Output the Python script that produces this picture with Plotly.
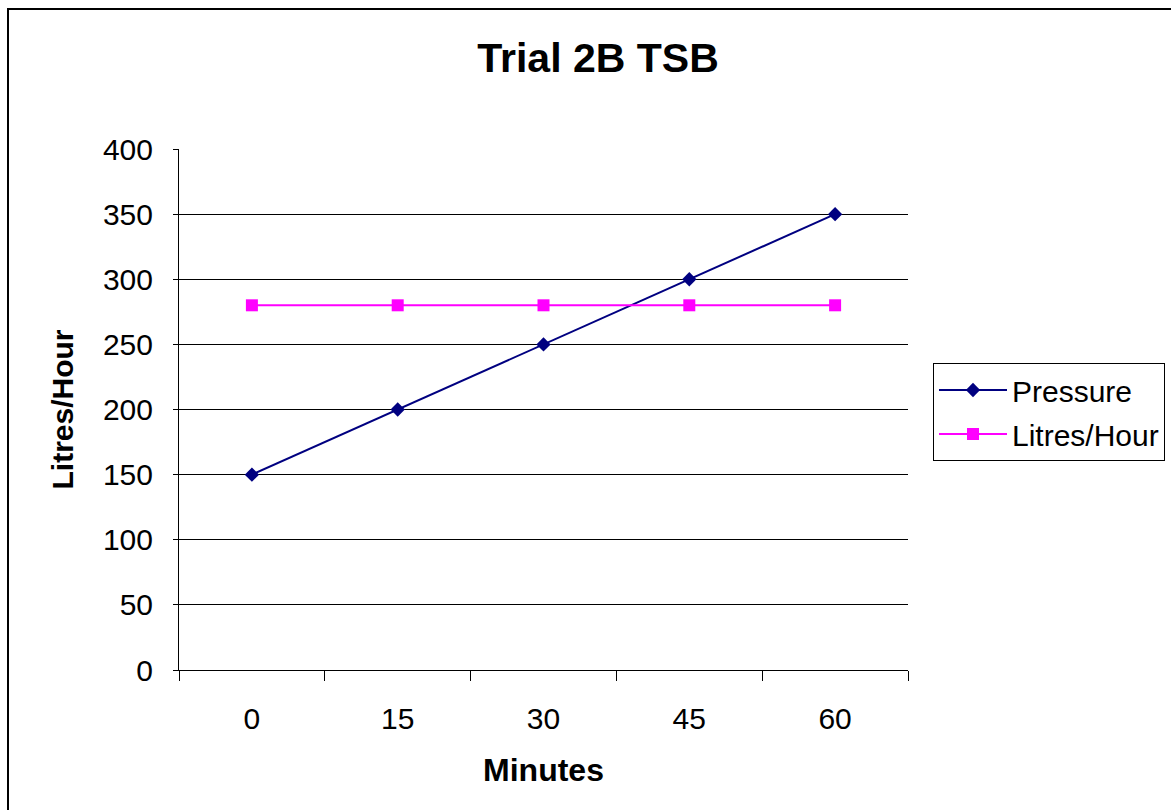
import plotly.graph_objects as go

minutes = ["0", "15", "30", "45", "60"]
pressure = [150, 200, 250, 300, 350]
litres_hour = [280, 280, 280, 280, 280]
y_ticks = [0, 50, 100, 150, 200, 250, 300, 350, 400]

W, H = 1171, 810
L, R, T, B = 179, 263, 149, 140
pw, ph = W - L - R, H - T - B

def px_x(x):
    return (x - L) / pw

def px_y(y):
    return (H - B - y) / ph

FONT = "Liberation Sans, Arial, sans-serif"

fig = go.Figure()
fig.add_trace(go.Scatter(
    x=minutes, y=pressure, name="Pressure", mode="lines+markers",
    line=dict(color="#000080", width=2),
    marker=dict(symbol="diamond", size=11, color="#000080"),
    legendgroup="a",
))
fig.add_trace(go.Scatter(
    x=minutes, y=litres_hour, name="Litres/Hour", mode="lines+markers",
    line=dict(color="#FF00FF", width=2),
    marker=dict(symbol="square", size=12, color="#FF00FF"),
    legendgroup="b",
))

fig.update_layout(
    width=W, height=H,
    margin=dict(l=L, r=R, t=T, b=B, autoexpand=False),
    paper_bgcolor="white", plot_bgcolor="white",
    font=dict(family=FONT, color="black", size=30),
    title=dict(text="<b>Trial 2B TSB</b>", font=dict(size=41, family=FONT, color="black"),
               xref="paper", x=px_x(598), xanchor="center",
               yref="container", y=1 - 58 / H, yanchor="middle"),
    xaxis=dict(
        type="category", range=[-0.5, 4.5],
        showline=True, linecolor="black", linewidth=1,
        ticks="outside", ticklen=10, tickcolor="black", tickwidth=1,
        tickson="boundaries", showgrid=False, zeroline=False,
        tickfont=dict(size=30, family=FONT),
        ticklabelstandoff=22,
        title=dict(text="<b>Minutes</b>", font=dict(size=32, family=FONT), standoff=24),
        automargin=False,
    ),
    yaxis=dict(
        range=[0, 400], tickvals=y_ticks,
        showline=True, linecolor="black", linewidth=1,
        ticks="outside", ticklen=5, tickcolor="black", tickwidth=1,
        showgrid=True, gridcolor="black", gridwidth=1, zeroline=False,
        tickfont=dict(size=30, family=FONT),
        ticklabelstandoff=14,
        title=dict(text="<b>Litres/Hour</b>", font=dict(size=30, family=FONT), standoff=20),
        automargin=False,
    ),
    legend=dict(
        x=px_x(933), y=px_y(363), xanchor="left", yanchor="top",
        bgcolor="white", bordercolor="black", borderwidth=1,
        font=dict(size=30, family=FONT), tracegroupgap=2,
        itemwidth=68,
    ),
    shapes=[dict(
        type="rect", xref="paper", yref="paper",
        x0=px_x(8), x1=px_x(1200), y0=px_y(840), y1=px_y(9),
        line=dict(color="black", width=2), fillcolor="rgba(0,0,0,0)", layer="below",
    )],
)

fig.write_html("out.html")
